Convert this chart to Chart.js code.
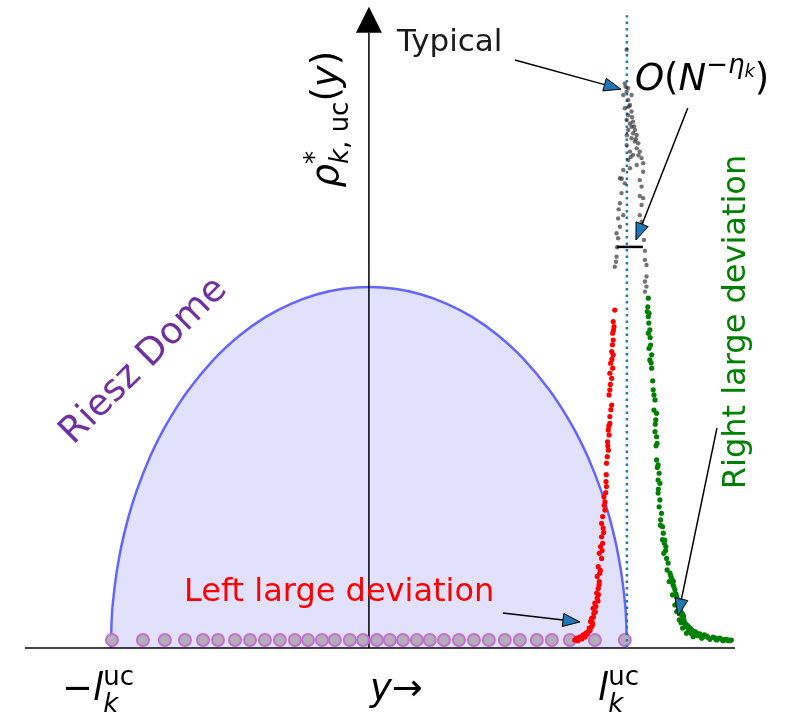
<!DOCTYPE html>
<html lang="en">
<head>
<meta charset="UTF-8">
<title>Riesz Dome</title>
<script src="https://cdn.jsdelivr.net/npm/chart.js"></script>
<style>
  body { margin: 0; background: #fff; }
  canvas { display: block; }
</style>
</head>
<body>
<canvas id="domeChart" width="792" height="714"></canvas>
<script>
// horizontal unit: l_k^uc = 1, vertical unit: dome height = 1
const domeX = [-1, -0.998, -0.99, -0.98, -0.96, -0.94, -0.92, -0.9, -0.85, -0.8, -0.75, -0.7, -0.6, -0.5, -0.4, -0.3, -0.2, -0.1, 0,
               0.1, 0.2, 0.3, 0.4, 0.5, 0.6, 0.7, 0.75, 0.8, 0.85, 0.9, 0.92, 0.94, 0.96, 0.98, 0.99, 0.998, 1];
const domeY = [0, 0.063, 0.141, 0.199, 0.28, 0.341, 0.392, 0.436, 0.527, 0.6, 0.661, 0.714, 0.8, 0.866, 0.917, 0.954, 0.98, 0.995, 1,
               0.995, 0.98, 0.954, 0.917, 0.866, 0.8, 0.714, 0.661, 0.6, 0.527, 0.436, 0.392, 0.341, 0.28, 0.199, 0.141, 0.063, 0];

// particle positions along the line
const chargeX = [-0.996, -0.876, -0.791, -0.713, -0.643, -0.585, -0.519, -0.461, -0.403, -0.345, -0.287, -0.236, -0.182, -0.132, -0.074, -0.023,
                 0.031, 0.081, 0.132, 0.186, 0.236, 0.291, 0.349, 0.407, 0.465, 0.527, 0.585, 0.651, 0.709, 0.779, 0.876, 0.992];
const chargeY = 0.022;

// sampled densities of the top particle
const leftDev = [
  [0.953,0.936],[0.947,0.904],[0.950,0.890],[0.945,0.872],[0.947,0.853],[0.941,0.821],[0.947,0.812],[0.937,0.789],[0.945,0.775],
  [0.934,0.761],[0.941,0.747],[0.934,0.715],[0.931,0.701],[0.941,0.673],[0.934,0.641],[0.934,0.622],[0.928,0.604],[0.931,0.590],
  [0.925,0.571],[0.928,0.548],[0.924,0.530],[0.921,0.512],[0.919,0.461],[0.921,0.447],[0.911,0.419],[0.915,0.405],[0.915,0.382],
  [0.906,0.364],[0.902,0.345],[0.908,0.332],[0.902,0.308],[0.906,0.290],[0.898,0.281],[0.893,0.262],[0.902,0.248],[0.889,0.225],
  [0.895,0.207],[0.885,0.198],[0.893,0.184],[0.889,0.165],[0.883,0.152],[0.885,0.138],[0.876,0.124],[0.869,0.110],[0.872,0.096],
  [0.863,0.082],[0.859,0.073],[0.867,0.064],[0.854,0.055],[0.850,0.045],[0.841,0.041],[0.831,0.036],[0.818,0.031],[0.805,0.027],
  [0.798,0.022],[0.810,0.020],[0.825,0.025],[0.838,0.030],[0.846,0.038],[0.857,0.048],[0.862,0.058],[0.866,0.070],[0.870,0.085],
  [0.878,0.100],[0.880,0.115],[0.888,0.130],[0.890,0.148],[0.892,0.175],[0.897,0.215],[0.904,0.270],[0.910,0.320],[0.912,0.395],
  [0.918,0.430],[0.920,0.480],[0.926,0.560],[0.930,0.615],[0.938,0.660],[0.936,0.730],[0.942,0.800],[0.944,0.840],[0.948,0.880]
];
const rightDev = [
  [1.083,0.969],[1.079,0.932],[1.086,0.927],[1.083,0.918],[1.089,0.881],[1.083,0.872],[1.092,0.839],[1.086,0.830],[1.096,0.812],
  [1.089,0.798],[1.096,0.775],[1.102,0.715],[1.105,0.701],[1.109,0.687],[1.105,0.659],[1.115,0.650],[1.112,0.632],[1.109,0.599],
  [1.115,0.585],[1.117,0.567],[1.115,0.521],[1.121,0.507],[1.125,0.484],[1.121,0.465],[1.128,0.456],[1.121,0.429],[1.128,0.410],
  [1.125,0.391],[1.134,0.373],[1.131,0.355],[1.138,0.336],[1.141,0.318],[1.147,0.299],[1.151,0.281],[1.143,0.262],[1.154,0.248],
  [1.160,0.235],[1.156,0.216],[1.167,0.207],[1.173,0.193],[1.164,0.184],[1.179,0.175],[1.186,0.161],[1.177,0.147],[1.193,0.142],
  [1.199,0.133],[1.186,0.119],[1.205,0.110],[1.193,0.101],[1.212,0.091],[1.218,0.082],[1.203,0.078],[1.225,0.068],[1.238,0.059],
  [1.216,0.055],[1.251,0.050],[1.264,0.045],[1.231,0.041],[1.283,0.039],[1.309,0.033],[1.334,0.030],[1.360,0.027],[1.386,0.024],
  [1.405,0.022],[1.257,0.031],[1.290,0.027],[1.322,0.024],[1.348,0.022],[1.373,0.020],[1.399,0.020],[1.170,0.200],[1.182,0.170],
  [1.190,0.150],[1.196,0.125],[1.208,0.105],[1.215,0.095],[1.222,0.075],[1.230,0.065],[1.245,0.055],[1.270,0.042],[1.300,0.036],
  [1.340,0.028],[1.380,0.023],[1.240,0.048],[1.210,0.070],[1.228,0.058],[1.262,0.038],[1.295,0.030],[1.355,0.026],[1.395,0.022],
  [1.150,0.270],[1.138,0.300],[1.145,0.290],[1.130,0.340],[1.122,0.440],[1.118,0.500],[1.113,0.560],[1.110,0.620],[1.100,0.740],
  [1.094,0.790],[1.090,0.860],[1.085,0.900],[1.081,0.945],[1.180,0.185],[1.200,0.120],[1.220,0.088],[1.235,0.062],[1.250,0.040],
  [1.275,0.034],[1.315,0.029],[1.345,0.025],[1.368,0.024],[1.390,0.021]
];
const typical = [
  [0.992,1.564],[0.999,1.541],[0.986,1.532],[1.005,1.518],[1.012,1.504],[0.992,1.495],[1.018,1.486],[1.005,1.476],[0.999,1.463],
  [1.012,1.453],[1.024,1.458],[1.018,1.444],[1.031,1.435],[1.005,1.435],[1.024,1.426],[1.038,1.421],[1.018,1.412],[1.031,1.403],
  [0.999,1.393],[1.044,1.398],[1.038,1.384],[1.012,1.375],[1.050,1.375],[1.024,1.366],[1.057,1.357],[1.005,1.352],[1.063,1.343],
  [1.038,1.338],[1.012,1.329],[0.986,1.324],[1.063,1.319],[0.973,1.301],[1.050,1.296],[0.992,1.287],[1.057,1.278],[0.979,1.260],
  [1.050,1.252],[1.063,1.246],[0.973,1.232],[1.057,1.227],[0.986,1.199],[1.050,1.199],[0.966,1.190],[1.057,1.181],[0.973,1.167],
  [0.960,1.149],[0.966,1.135],[0.960,1.084],[1.070,1.075],[1.076,1.061],[0.953,1.056],[1.076,1.029],[1.070,1.015],[1.076,1.001],
  [1.070,0.987],[0.999,1.657],[1.005,1.551],[1.018,1.532],[0.995,1.555],[1.008,1.500],[1.020,1.470],[1.028,1.445],[1.000,1.420],
  [1.035,1.410],[1.045,1.365],[1.015,1.360],[0.980,1.300],[0.968,1.215],[0.962,1.110],[0.958,1.070],[1.070,1.100],[1.066,1.130]
];

// O(N^-eta) fluctuation bar
const barX = [0.961, 1.062];
const barY = 1.111;

const FONT = "'DejaVu Sans'";
const pts = arr => arr.map(([x, y]) => ({ x, y }));

function drawRuns(ctx, x, y, runs, draw = true) {
  let pen = x, stackW = 0;
  for (const r of runs) {
    ctx.font = r.f;
    if (draw) ctx.fillText(r.t, pen, y + (r.dy || 0));
    const w = ctx.measureText(r.t).width;
    if (r.hold) stackW = Math.max(stackW, w);
    else { pen += Math.max(w, stackW); stackW = 0; }
  }
  return pen - x;
}

function arrow(ctx, x0, y0, x1, y1) {
  const a = Math.atan2(y1 - y0, x1 - x0);
  const len = 17, half = 6.5;
  const bx = x1 - len * Math.cos(a), by = y1 - len * Math.sin(a);
  ctx.strokeStyle = '#000';
  ctx.lineWidth = 1.5;
  ctx.beginPath(); ctx.moveTo(x0, y0); ctx.lineTo(bx, by); ctx.stroke();
  ctx.beginPath();
  ctx.moveTo(x1, y1);
  ctx.lineTo(bx + half * Math.sin(a), by - half * Math.cos(a));
  ctx.lineTo(bx - half * Math.sin(a), by + half * Math.cos(a));
  ctx.closePath();
  ctx.fillStyle = '#1f77b4';
  ctx.fill();
  ctx.lineWidth = 1;
  ctx.stroke();
}

const big = s => `${s}px ${FONT}`;
const it = s => `italic ${s}px ${FONT}`;

const annotations = {
  id: 'annotations',
  afterDatasetsDraw(chart) {
    const { ctx, scales: { x, y } } = chart;
    const px = v => x.getPixelForValue(v), py = v => y.getPixelForValue(v);
    ctx.save();
    ctx.textBaseline = 'alphabetic';
    ctx.textAlign = 'left';

    // arrow head of the vertical axis
    ctx.fillStyle = '#000';
    ctx.beginPath();
    ctx.moveTo(px(0), py(1.776));
    ctx.lineTo(px(0) - 13, py(1.704));
    ctx.lineTo(px(0) + 13, py(1.704));
    ctx.closePath();
    ctx.fill();

    // arrows
    arrow(ctx, px(0.566), py(1.629), px(0.977), py(1.548));
    arrow(ctx, px(1.236), py(1.496), px(1.035), py(1.130));
    arrow(ctx, px(1.349), py(0.609), px(1.198), py(0.089));
    arrow(ctx, px(0.519), py(0.097), px(0.818), py(0.072));

    // plain labels
    ctx.fillStyle = '#1a1a1a';
    ctx.font = big(31);
    ctx.fillText('Typical', px(0.109), py(1.654));

    ctx.fillStyle = '#ff0000';
    ctx.font = big(32);
    ctx.fillText('Left large deviation', px(-0.717), py(0.130));

    ctx.save();
    ctx.fillStyle = '#008000';
    ctx.translate(px(1.457), py(0.903));
    ctx.rotate(-Math.PI / 2);
    ctx.textAlign = 'center';
    ctx.fillText('Right large deviation', 0, 0);
    ctx.restore();

    ctx.save();
    ctx.fillStyle = '#7030a0';
    ctx.font = big(37);
    ctx.translate(px(-0.872), py(0.794));
    ctx.rotate(-Math.PI / 4);
    ctx.textAlign = 'center';
    ctx.textBaseline = 'middle';
    ctx.fillText('Riesz Dome', 0, 0);
    ctx.restore();

    // math labels
    ctx.fillStyle = '#000';
    drawRuns(ctx, px(1.031), py(1.546), [
      { t: 'O', f: it(37) }, { t: '(', f: big(37) }, { t: 'N', f: it(37) },
      { t: '\u2212', f: big(26), dy: -17 }, { t: '\u03b7', f: it(26), dy: -17 },
      { t: 'k', f: it(18), dy: -13 }, { t: ')', f: big(37) }
    ]);

    const lk = [
      { t: 'l', f: it(37) },
      { t: 'uc', f: big(26), dy: -15, hold: true },
      { t: 'k', f: it(26), dy: 12 }
    ];
    drawRuns(ctx, px(-1.190), py(-0.144), [{ t: '\u2212', f: big(37) }, ...lk]);
    drawRuns(ctx, px(0.888), py(-0.144), lk);
    drawRuns(ctx, px(0.004), py(-0.144), [{ t: 'y', f: it(37) }, { t: '\u2192', f: big(37) }]);

    const rho = [
      { t: '\u03c1', f: it(37) },
      { t: '*', f: big(26), dy: -15, hold: true },
      { t: 'k', f: it(26), dy: 10 }, { t: ', uc', f: big(26), dy: 10 },
      { t: '(', f: big(37) }, { t: 'y', f: it(37) }, { t: ')', f: big(37) }
    ];
    ctx.save();
    ctx.translate(px(-0.120), py(1.465));
    ctx.rotate(-Math.PI / 2);
    const w = drawRuns(ctx, 0, 0, rho, false);
    drawRuns(ctx, -w / 2, 0, rho);
    ctx.restore();

    ctx.restore();
  }
};

const dots = (data, color, order) => ({
  data: pts(data), showLine: false, pointRadius: 2.6, pointBorderWidth: 0,
  pointBackgroundColor: color, order
});

new Chart(document.getElementById('domeChart'), {
  type: 'line',
  data: {
    datasets: [
      { data: pts(typical), showLine: false, pointRadius: 2.2, pointBorderWidth: 0,
        pointBackgroundColor: 'rgba(40,40,40,0.65)', order: 1 },
      dots(rightDev, '#008000', 2),
      dots(leftDev, '#ff0000', 3),
      { data: barX.map(v => ({ x: v, y: barY })), borderColor: '#000', borderWidth: 2.5, pointRadius: 0, order: 0 },
      { data: [{ x: 1, y: 0 }, { x: 1, y: 1.753 }], borderColor: '#1f77b4', borderWidth: 2.5,
        borderDash: [2.5, 4], borderCapStyle: 'butt', pointRadius: 0, order: 4 },
      { data: chargeX.map(v => ({ x: v, y: chargeY })), showLine: false, pointRadius: 6, pointBorderWidth: 2,
        pointBackgroundColor: '#b2afb8', pointBorderColor: '#c46fd2', order: 5 },
      { data: [{ x: 0, y: 0 }, { x: 0, y: 1.704 }], borderColor: '#000', borderWidth: 1.5, pointRadius: 0, order: 6 },
      { data: [{ x: -1.333, y: 0 }, { x: 1.419, y: 0 }], borderColor: '#000', borderWidth: 1.5, pointRadius: 0, order: 7 },
      { data: domeX.map((v, i) => ({ x: v, y: domeY[i] })), borderColor: '#6464ff', borderWidth: 2.5,
        backgroundColor: '#e1e1fc', fill: 'origin', cubicInterpolationMode: 'monotone', pointRadius: 0, order: 8 }
    ]
  },
  options: {
    responsive: false,
    animation: false,
    layout: { padding: 0, autoPadding: false },
    plugins: { legend: { display: false }, tooltip: { enabled: false } },
    scales: {
      x: { type: 'linear', display: false, min: -1.43, max: 1.64 },
      y: { type: 'linear', display: false, min: -0.183, max: 1.795 }
    }
  },
  plugins: [annotations]
});
</script>
</body>
</html>
